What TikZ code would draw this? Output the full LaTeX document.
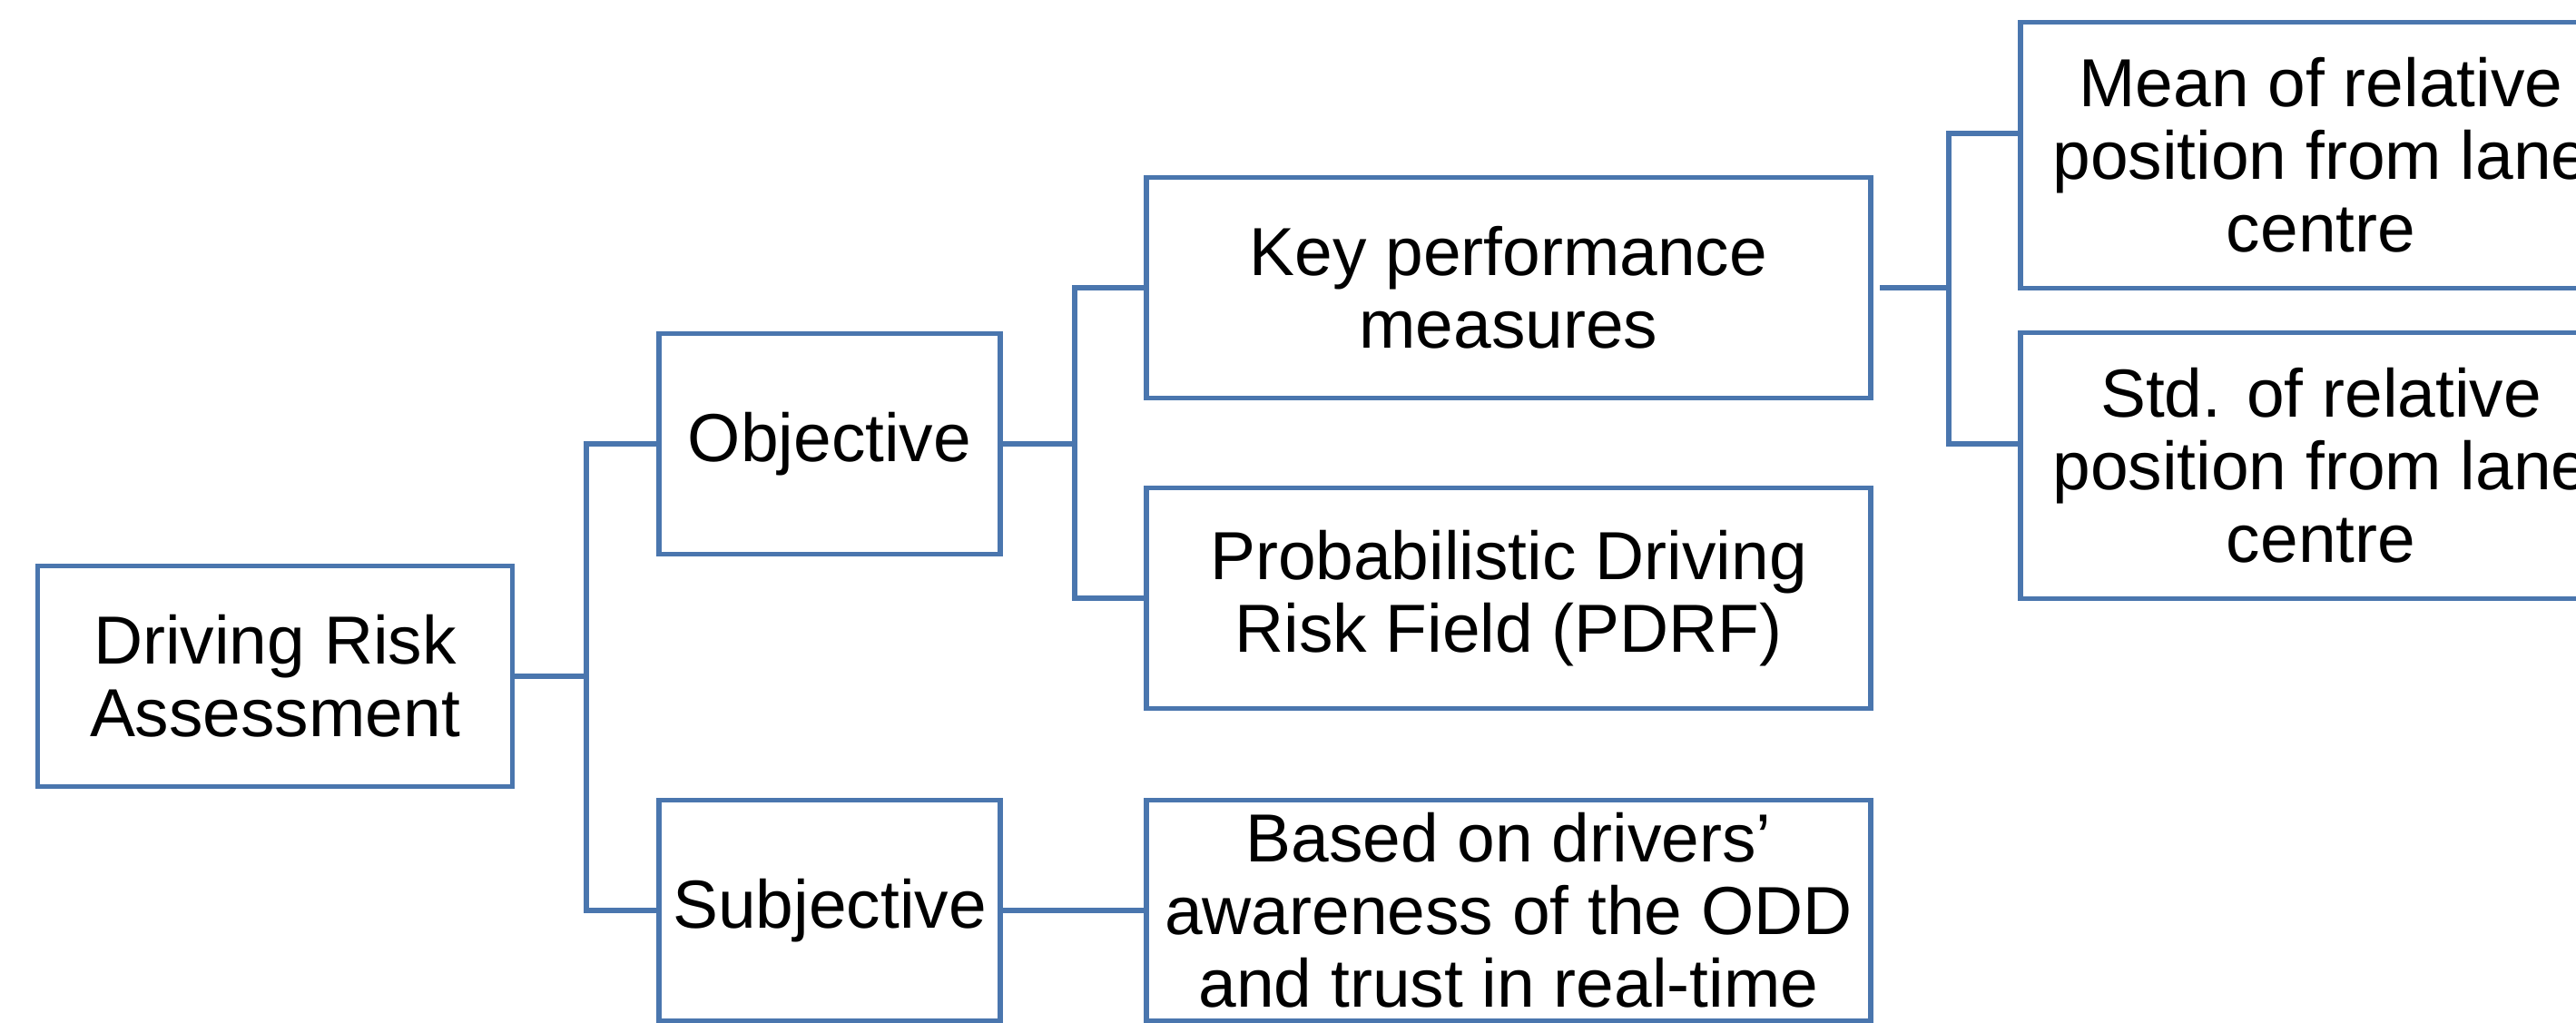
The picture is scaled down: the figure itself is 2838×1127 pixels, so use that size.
\documentclass[tikz,border=0pt]{standalone}
\usepackage{fontspec}
\setmainfont{Liberation Sans}
\usepackage[HTML]{xcolor}
\usepackage{tikz}
\usetikzlibrary{positioning}

\definecolor{boxblue}{HTML}{4A76AE}

\begin{document}
\begin{tikzpicture}[x=0.01cm, y=-0.01cm,
  box/.style={draw=boxblue, line width=1.6pt, align=center, inner sep=0pt,
    minimum height=2.43cm, font=\fontsize{21.3}{22.8}\selectfont},
  link/.style={draw=boxblue, line width=1.6pt}]
\clip (0,0) rectangle (2838,1127);

\node[box, minimum width=5.23cm] (DRA)  at (303,745)  {Driving Risk\\Assessment};
\node[box, minimum width=3.76cm] (Obj)  at (914,489)  {Objective};
\node[box, minimum width=3.76cm] (Subj) at (914,1003) {Subjective};
\node[box, minimum width=7.98cm] (KPM)  at (1662,317) {Key performance\\measures};
\node[box, minimum width=7.98cm] (PDRF) at (1662,659) {Probabilistic Driving\\Risk Field (PDRF)};
\node[box, minimum width=7.98cm] (Aware) at (1662,1003) {Based on drivers’\\awareness of the ODD\\and trust in real-time};
\node[box, minimum width=6.62cm, minimum height=2.93cm] (MeanPos) at (2557,171) {Mean of relative\\position from lane\\centre};
\node[box, minimum width=6.62cm, minimum height=2.93cm] (StdPos)  at (2557,513) {Std. of relative\\position from lane\\centre};

\coordinate (J1) at (646,745);
\coordinate (J2) at (1184,489);
\coordinate (J3) at (2147,317);

\draw[link] (DRA.east) -- (J1);
\draw[link] (Obj.west) -| (J1) |- (Subj.west);
\draw[link] (Obj.east) -- (J2);
\draw[link] (KPM.west) -| (J2) |- (PDRF.west);
\draw[link] (Subj.east) -- (Aware.west);
\draw[link] ([xshift=2pt]KPM.east) -- (J3);
\draw[link] ([yshift=6.8pt]MeanPos.west) -| (J3) |- ([yshift=6.8pt]StdPos.west);
\end{tikzpicture}
\end{document}
